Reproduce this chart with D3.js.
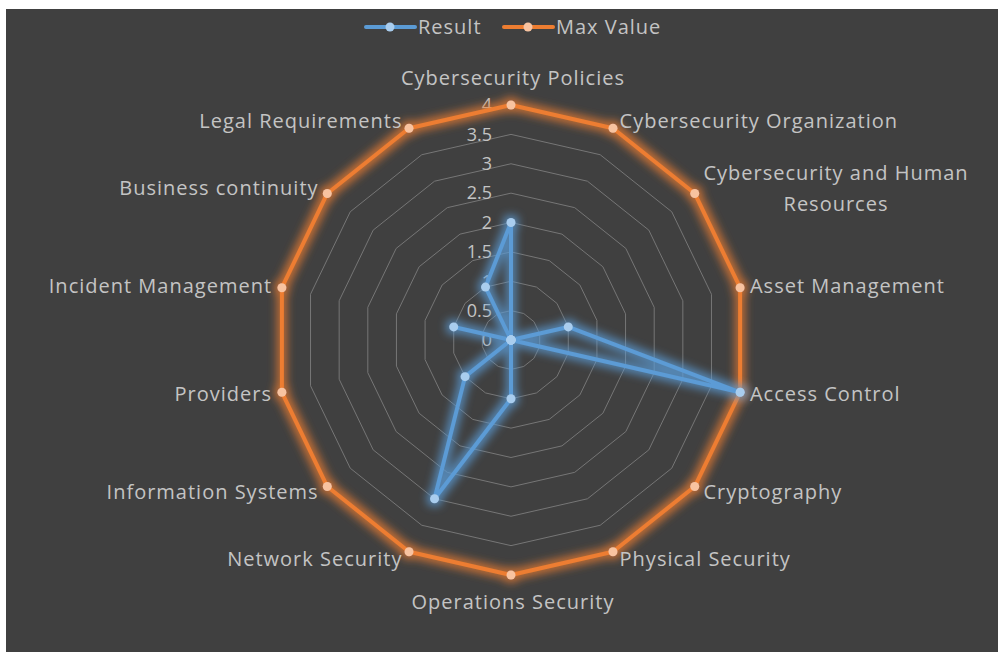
<!DOCTYPE html>
<html>
<head>
<meta charset="utf-8">
<script src="https://cdn.jsdelivr.net/npm/d3@7"></script>
<style>
  html, body { margin: 0; padding: 0; background: #ffffff; }
  svg { display: block; }
  text { font-family: "Open Sans", "Noto Sans", sans-serif; fill: #c4c4c4; }
</style>
</head>
<body>
<svg id="chart" width="998" height="652"></svg>
<script>
// categories round the radar, clockwise from the top
var categories = [
    "Cybersecurity Policies", "Cybersecurity Organization",
    "Cybersecurity and Human Resources", "Asset Management",
    "Access Control", "Cryptography", "Physical Security",
    "Operations Security", "Network Security", "Information Systems",
    "Providers", "Incident Management", "Business continuity",
    "Legal Requirements"
];
var resultValues = [2, 0, 0, 1, 4, 0, 0, 1, 3, 1, 0, 1, 0, 1];
var maxValues    = [4, 4, 4, 4, 4, 4, 4, 4, 4, 4, 4, 4, 4, 4];
var tickValues   = [0, 0.5, 1, 1.5, 2, 2.5, 3, 3.5, 4];
var seriesNames  = ["Result", "Max Value"];
var seriesColors = ["#5b9bd5", "#ed7d31"];
var markerColors = ["#a9cdee", "#f8c3a0"];

var svg = d3.select("#chart");
var cx = 511, cy = 340, R = 235;

// dark plate, white margin top/left like the screenshot
svg.append("rect")
    .attr("x", 6).attr("y", 9)
    .attr("width", 992).attr("height", 643)
    .attr("fill", "#404040");

// coloured glow round each series
var defs = svg.append("defs");
seriesColors.forEach(function (c, i) {
    var f = defs.append("filter")
        .attr("id", "glow" + i)
        .attr("x", "-20%").attr("y", "-20%")
        .attr("width", "140%").attr("height", "140%");
    f.append("feMorphology")
        .attr("in", "SourceAlpha")
        .attr("operator", "dilate")
        .attr("radius", 2.5)
        .attr("result", "fat");
    f.append("feGaussianBlur")
        .attr("in", "fat")
        .attr("stdDeviation", 4)
        .attr("result", "blur");
    f.append("feFlood")
        .attr("flood-color", c)
        .attr("flood-opacity", 0.75)
        .attr("result", "col");
    f.append("feComposite")
        .attr("in", "col").attr("in2", "blur")
        .attr("operator", "in")
        .attr("result", "soft");
    var m = f.append("feMerge");
    m.append("feMergeNode").attr("in", "soft");
    m.append("feMergeNode").attr("in", "SourceGraphic");
});

var r = d3.scaleLinear().domain([0, 4]).range([0, R]);
var angle = d3.scaleLinear()
    .domain([0, categories.length])
    .range([0, 2 * Math.PI]);

function pt(i, v) {
    var a = angle(i);
    return [cx + r(v) * Math.sin(a), cy - r(v) * Math.cos(a)];
}

// grid rings
var ring = d3.line();
tickValues.slice(1).forEach(function (t) {
    var pts = categories.map(function (c, i) { return pt(i, t); });
    pts.push(pts[0]);
    svg.append("path")
        .attr("d", ring(pts))
        .attr("fill", "none")
        .attr("stroke", "#767676")
        .attr("stroke-width", 1);
});

// radial tick labels
svg.selectAll(".tick")
    .data(tickValues)
    .enter()
    .append("text")
    .attr("class", "tick")
    .attr("x", cx - 19)
    .attr("y", function (d) { return cy - r(d); })
    .attr("dy", "0.35em")
    .attr("text-anchor", "end")
    .style("font-size", "18px")
    .text(function (d) { return d; });

// series
var line = d3.line();
[maxValues, resultValues].forEach(function (vals, k) {
    var si = k === 0 ? 1 : 0;
    var pts = vals.map(function (v, i) { return pt(i, v); });
    pts.push(pts[0]);
    var g = svg.append("g").attr("filter", "url(#glow" + si + ")");
    g.append("path")
        .attr("d", line(pts))
        .attr("fill", "none")
        .attr("stroke", seriesColors[si])
        .attr("stroke-width", 4)
        .attr("stroke-linejoin", "round");
    g.selectAll("circle")
        .data(vals)
        .enter()
        .append("circle")
        .attr("cx", function (v, i) { return pt(i, v)[0]; })
        .attr("cy", function (v, i) { return pt(i, v)[1]; })
        .attr("r", 4.5)
        .attr("fill", markerColors[si]);
});

// category labels
categories.forEach(function (c, i) {
    var a = angle(i);
    var s = Math.sin(a), co = Math.cos(a);
    var p = pt(i, 4);
    var anchor, x, y;
    if (Math.abs(s) < 0.01) {
        anchor = "middle";
        x = p[0] + 2;
        y = p[1] - co * 27;
    } else {
        anchor = s > 0 ? "start" : "end";
        x = p[0] + (s > 0 ? 1 : -1) * (4 + 6 * Math.abs(s));
        y = p[1] - co * 8;
    }
    var lines = c === "Cybersecurity and Human Resources"
        ? ["Cybersecurity and Human", "Resources"] : [c];
    var t = svg.append("text")
        .attr("text-anchor", anchor)
        .style("font-size", "20px")
        .style("letter-spacing", "1px");
    lines.forEach(function (l, j) {
        t.append("tspan")
            .attr("x", x)
            .attr("y", y + (j - (lines.length - 1) / 2) * 31)
            .attr("dy", "0.35em")
            .text(l);
    });
    if (lines.length > 1) {
        // wrapped label: centre both lines on the widest one
        var w = d3.max(t.selectAll("tspan").nodes(), function (n) {
            return n.getComputedTextLength();
        });
        t.attr("text-anchor", "middle");
        t.selectAll("tspan").attr("x", x + w / 2);
    }
});

// legend
var leg = svg.append("g");
var legX = [366, 504];
seriesNames.forEach(function (n, i) {
    var gx = legX[i];
    leg.append("line")
        .attr("x1", gx).attr("x2", gx + 49)
        .attr("y1", 27).attr("y2", 27)
        .attr("stroke", seriesColors[i])
        .attr("stroke-width", 4)
        .attr("stroke-linecap", "round");
    leg.append("circle")
        .attr("cx", gx + 24).attr("cy", 27).attr("r", 4.5)
        .attr("fill", markerColors[i]);
    leg.append("text")
        .attr("x", gx + 52).attr("y", 27)
        .attr("dy", "0.35em")
        .style("font-size", "20px")
        .style("letter-spacing", "1px")
        .text(n);
});
</script>
</body>
</html>
